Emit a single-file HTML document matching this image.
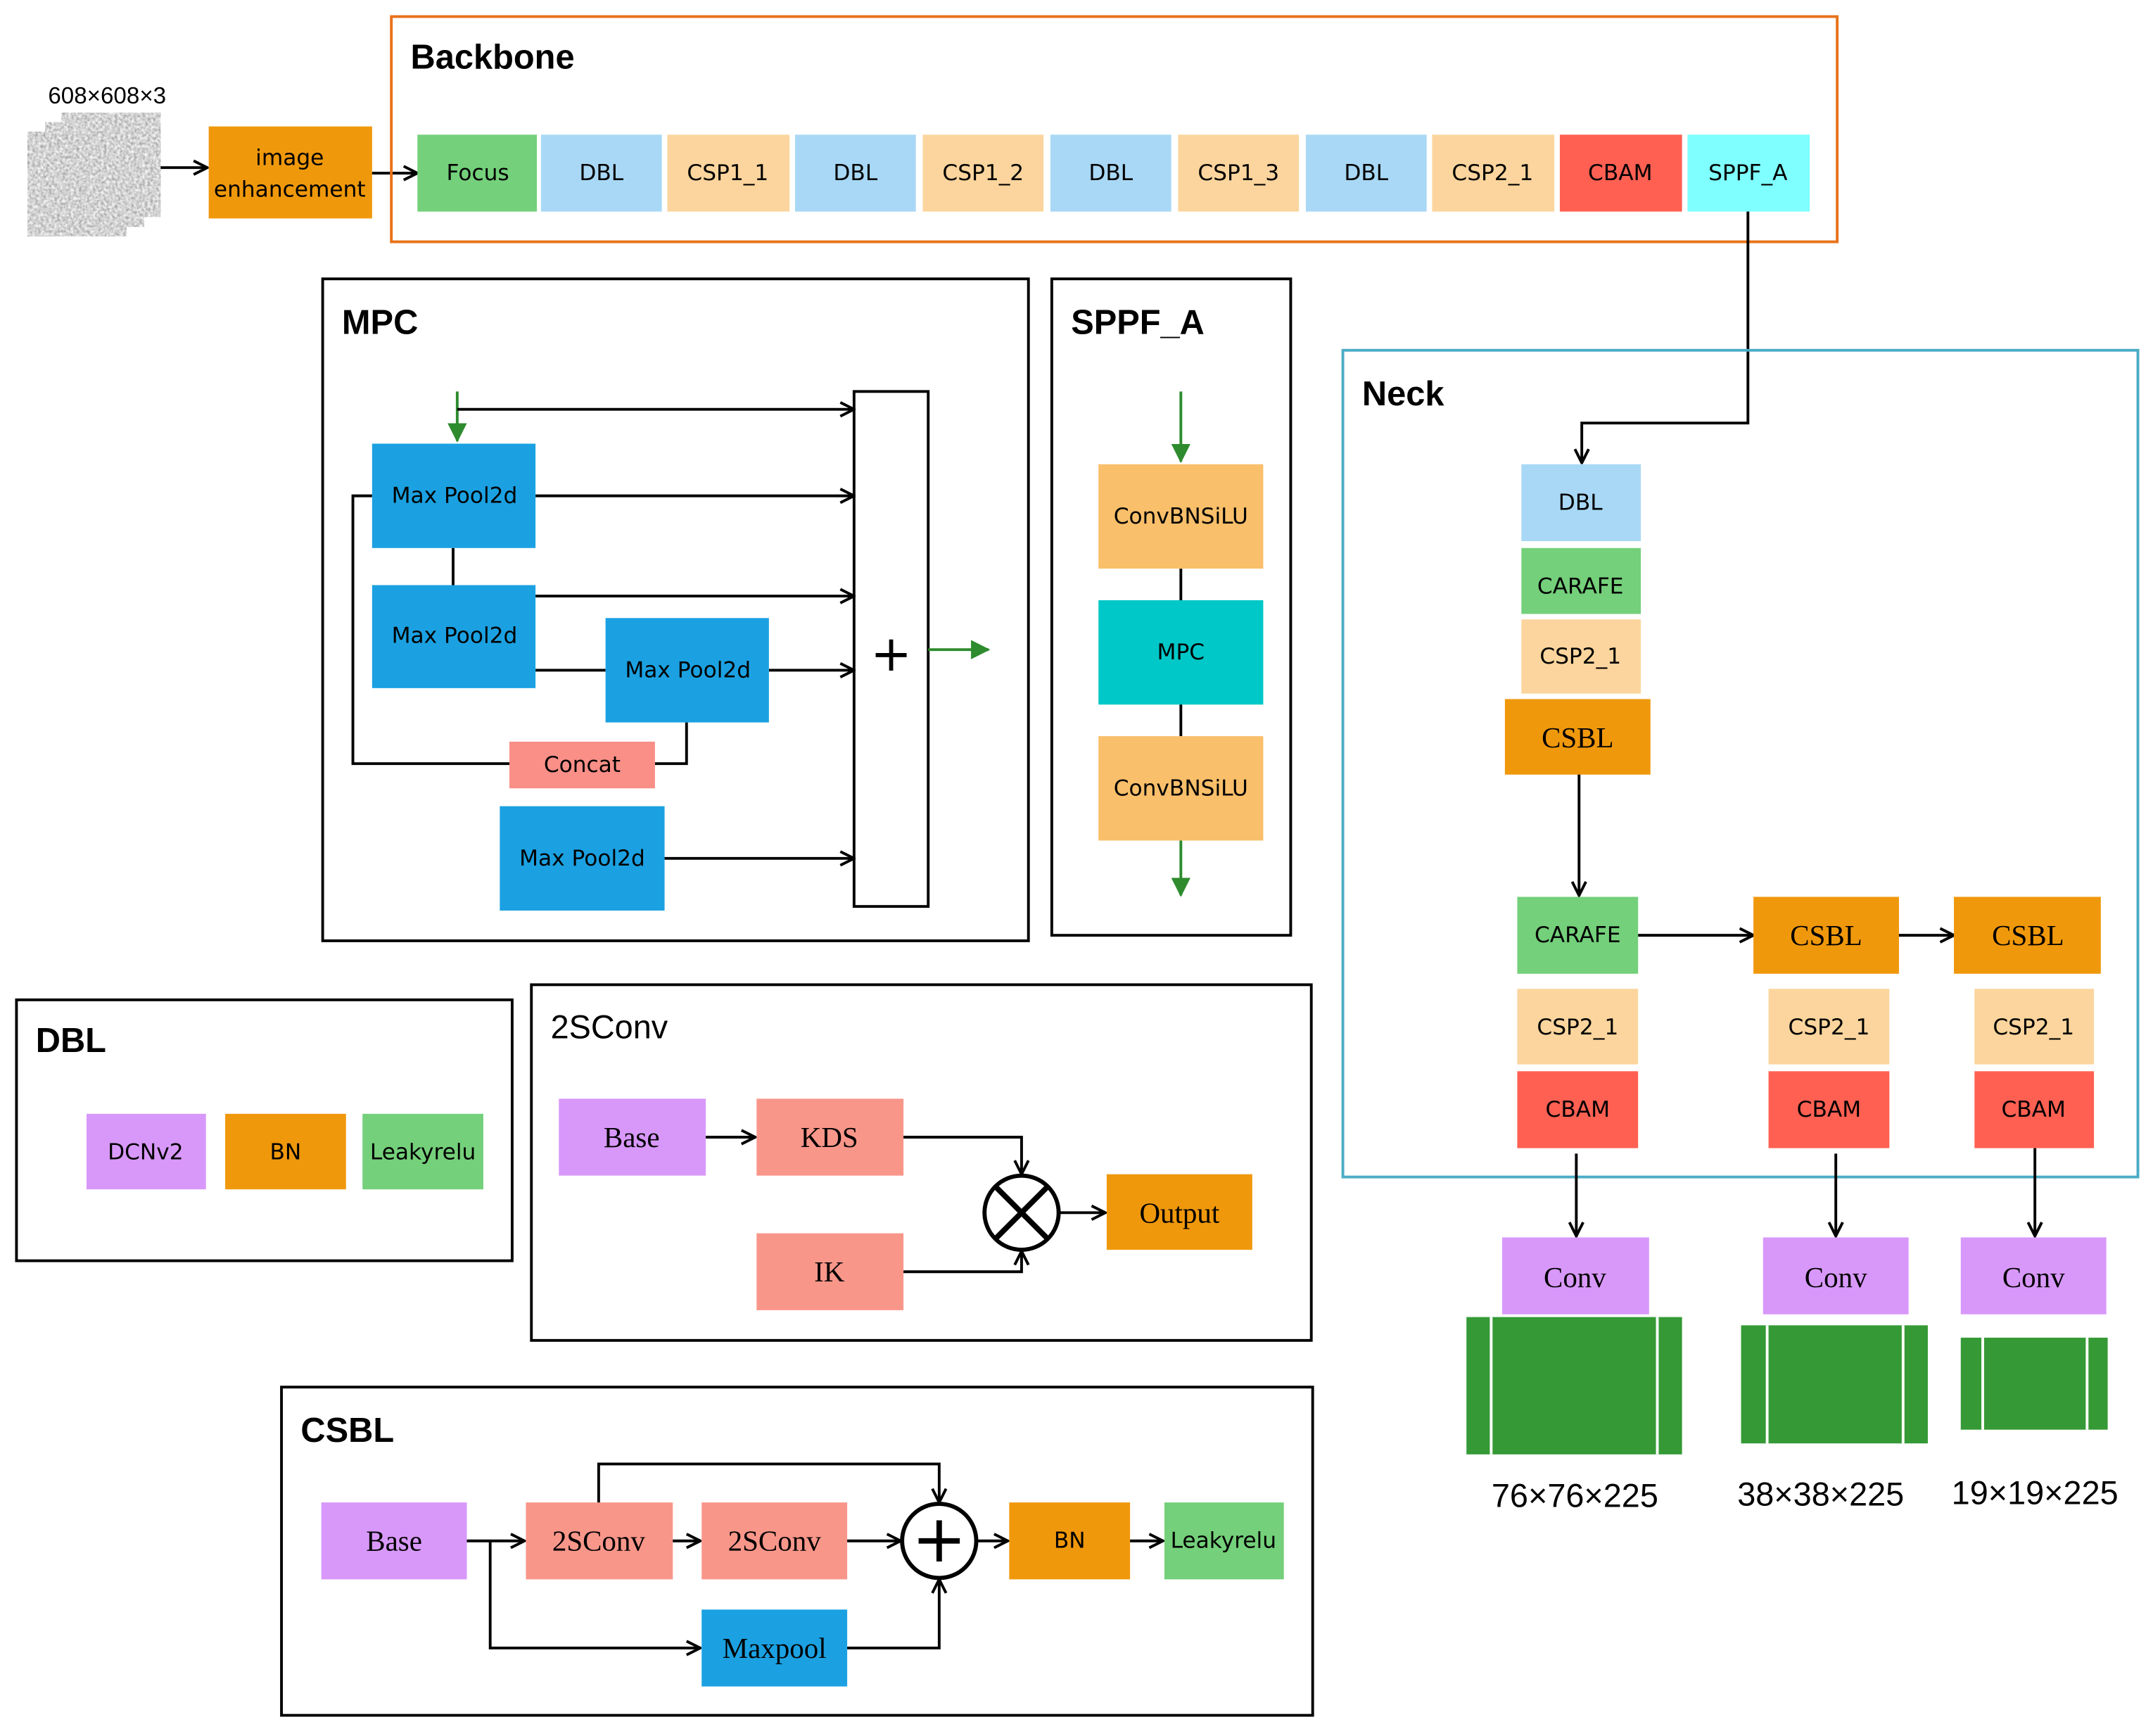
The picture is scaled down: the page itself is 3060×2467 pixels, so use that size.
<!DOCTYPE html>
<html><head><meta charset="utf-8"><style>
html,body{margin:0;padding:0;background:#fff;}
svg{display:block;}
text{font-family:"DejaVu Sans","Liberation Sans",sans-serif;fill:#000;}
.s{font-size:16px;text-anchor:middle;dominant-baseline:central;}
.f{font-family:"Liberation Serif",serif;font-size:21px;text-anchor:middle;dominant-baseline:central;}
.t{font-family:"Liberation Sans",sans-serif;font-size:25px;font-weight:bold;}
.d{font-family:"Liberation Sans",sans-serif;font-size:24px;text-anchor:middle;dominant-baseline:central;}
.ln{stroke:#000;stroke-width:2;fill:none;}
</style></head><body>
<svg width="3060" height="2467" viewBox="0 0 1568 1264" xmlns="http://www.w3.org/2000/svg">
<defs>
<marker id="a" viewBox="0 0 12 12" refX="11" refY="6" markerWidth="12" markerHeight="12" markerUnits="userSpaceOnUse" orient="auto"><path d="M1,1 L11,6 L1,11" fill="none" stroke="#000" stroke-width="2"/></marker>
<marker id="g" viewBox="0 0 12 12" refX="11" refY="6" markerWidth="14" markerHeight="14" markerUnits="userSpaceOnUse" orient="auto"><path d="M0,0 L12,6 L0,12 z" fill="#2E8B2E"/></marker>
<filter id="n" x="0" y="0" width="100%" height="100%"><feTurbulence type="fractalNoise" baseFrequency="0.5" numOctaves="2" seed="3"/><feColorMatrix type="matrix" values="0.9 0 0 0 0.2  0.9 0 0 0 0.2  0.9 0 0 0 0.2  0 0 0 0 1"/></filter>
</defs>
<rect width="1568" height="1264" fill="#fff"/>

<!-- input images -->
<rect x="45" y="82" width="72" height="76" filter="url(#n)"/>
<rect x="33" y="89" width="72" height="76" filter="url(#n)"/>
<rect x="20" y="96" width="72" height="76" filter="url(#n)"/>
<text x="78" y="70" style="font-family:'Liberation Sans',sans-serif;font-size:17px;text-anchor:middle;dominant-baseline:central;">608×608×3</text>
<line class="ln" x1="117" y1="122" x2="151" y2="122" marker-end="url(#a)"/>
<rect x="152" y="92" width="119" height="67" fill="#F0980C"/>
<text class="s" x="211" y="115">image</text>
<text class="s" x="211" y="138">enhancement</text>
<line class="ln" x1="271" y1="126" x2="304" y2="126" marker-end="url(#a)"/>

<!-- Backbone -->
<rect x="285" y="12" width="1053" height="164" fill="none" stroke="#E8731A" stroke-width="2"/>
<text class="t" x="299" y="50">Backbone</text>
<g>
<rect x="304" y="98" width="87" height="56" fill="#74D07A"/><text class="s" x="348" y="126">Focus</text>
<rect x="394" y="98" width="88" height="56" fill="#A8D8F5"/><text class="s" x="438" y="126">DBL</text>
<rect x="486" y="98" width="89" height="56" fill="#FBD59D"/><text class="s" x="530" y="126">CSP1_1</text>
<rect x="579" y="98" width="88" height="56" fill="#A8D8F5"/><text class="s" x="623" y="126">DBL</text>
<rect x="672" y="98" width="88" height="56" fill="#FBD59D"/><text class="s" x="716" y="126">CSP1_2</text>
<rect x="765" y="98" width="88" height="56" fill="#A8D8F5"/><text class="s" x="809" y="126">DBL</text>
<rect x="858" y="98" width="88" height="56" fill="#FBD59D"/><text class="s" x="902" y="126">CSP1_3</text>
<rect x="951" y="98" width="88" height="56" fill="#A8D8F5"/><text class="s" x="995" y="126">DBL</text>
<rect x="1043" y="98" width="89" height="56" fill="#FBD59D"/><text class="s" x="1087" y="126">CSP2_1</text>
<rect x="1136" y="98" width="89" height="56" fill="#FF6052"/><text class="s" x="1180" y="126">CBAM</text>
<rect x="1229" y="98" width="89" height="56" fill="#7FFFFF"/><text class="s" x="1273" y="126">SPPF_A</text>
</g>
<polyline class="ln" points="1273,154 1273,308 1152,308 1152,337" marker-end="url(#a)"/>

<!-- MPC -->
<rect x="235" y="203" width="514" height="482" fill="none" stroke="#000" stroke-width="2"/>
<text class="t" x="249" y="243">MPC</text>
<rect x="622" y="285" width="54" height="375" fill="#fff" stroke="#000" stroke-width="2"/>
<text x="649" y="476" style="font-size:36px;text-anchor:middle;dominant-baseline:central;">+</text>
<line x1="333" y1="285" x2="333" y2="321" stroke="#2E8B2E" stroke-width="2" marker-end="url(#g)"/>
<line class="ln" x1="333" y1="298" x2="622" y2="298" marker-end="url(#a)"/>
<polyline class="ln" points="271,361 257,361 257,556 371,556"/>
<polyline class="ln" points="500,526 500,556 477,556"/>
<line class="ln" x1="330" y1="399" x2="330" y2="426"/>
<line class="ln" x1="390" y1="361" x2="622" y2="361" marker-end="url(#a)"/>
<line class="ln" x1="390" y1="434" x2="622" y2="434" marker-end="url(#a)"/>
<line class="ln" x1="390" y1="488" x2="441" y2="488"/>
<line class="ln" x1="560" y1="488" x2="622" y2="488" marker-end="url(#a)"/>
<line class="ln" x1="484" y1="625" x2="622" y2="625" marker-end="url(#a)"/>
<rect x="271" y="323" width="119" height="76" fill="#1BA1E2"/><text class="s" x="331" y="361">Max Pool2d</text>
<rect x="271" y="426" width="119" height="75" fill="#1BA1E2"/><text class="s" x="331" y="463">Max Pool2d</text>
<rect x="441" y="450" width="119" height="76" fill="#1BA1E2"/><text class="s" x="501" y="488">Max Pool2d</text>
<rect x="371" y="540" width="106" height="34" fill="#F98F87"/><text class="s" x="424" y="557">Concat</text>
<rect x="364" y="587" width="120" height="76" fill="#1BA1E2"/><text class="s" x="424" y="625">Max Pool2d</text>
<line x1="676" y1="473" x2="720" y2="473" stroke="#2E8B2E" stroke-width="2" marker-end="url(#g)"/>

<!-- SPPF_A -->
<rect x="766" y="203" width="174" height="478" fill="none" stroke="#000" stroke-width="2"/>
<text class="t" x="780" y="243">SPPF_A</text>
<line x1="860" y1="285" x2="860" y2="336" stroke="#2E8B2E" stroke-width="2" marker-end="url(#g)"/>
<line class="ln" x1="860" y1="414" x2="860" y2="536"/>
<rect x="800" y="338" width="120" height="76" fill="#F9BF6A"/><text class="s" x="860" y="376">ConvBNSiLU</text>
<rect x="800" y="437" width="120" height="76" fill="#00C8C8"/><text class="s" x="860" y="475">MPC</text>
<rect x="800" y="536" width="120" height="76" fill="#F9BF6A"/><text class="s" x="860" y="574">ConvBNSiLU</text>
<line x1="860" y1="612" x2="860" y2="652" stroke="#2E8B2E" stroke-width="2" marker-end="url(#g)"/>

<!-- Neck -->
<rect x="978" y="255" width="579" height="602" fill="none" stroke="#4BACC6" stroke-width="2"/>
<text class="t" x="992" y="295">Neck</text>
<rect x="1108" y="338" width="87" height="56" fill="#A8D8F5"/><text class="s" x="1151" y="366">DBL</text>
<rect x="1108" y="399" width="87" height="48" fill="#74D07A"/><text class="s" x="1151" y="427">CARAFE</text>
<rect x="1108" y="451" width="87" height="54" fill="#FBD59D"/><text class="s" x="1151" y="478">CSP2_1</text>
<rect x="1096" y="509" width="106" height="55" fill="#F0980C"/><text class="f" x="1149" y="537">CSBL</text>
<line class="ln" x1="1150" y1="564" x2="1150" y2="652" marker-end="url(#a)"/>
<rect x="1105" y="653" width="88" height="56" fill="#74D07A"/><text class="s" x="1149" y="681">CARAFE</text>
<line class="ln" x1="1193" y1="681" x2="1277" y2="681" marker-end="url(#a)"/>
<rect x="1277" y="653" width="106" height="56" fill="#F0980C"/><text class="f" x="1330" y="681">CSBL</text>
<line class="ln" x1="1383" y1="681" x2="1423" y2="681" marker-end="url(#a)"/>
<rect x="1423" y="653" width="107" height="56" fill="#F0980C"/><text class="f" x="1477" y="681">CSBL</text>
<rect x="1105" y="720" width="88" height="55" fill="#FBD59D"/><text class="s" x="1149" y="748">CSP2_1</text>
<rect x="1288" y="720" width="88" height="55" fill="#FBD59D"/><text class="s" x="1332" y="748">CSP2_1</text>
<rect x="1438" y="720" width="87" height="55" fill="#FBD59D"/><text class="s" x="1481" y="748">CSP2_1</text>
<rect x="1105" y="780" width="88" height="56" fill="#FF6052"/><text class="s" x="1149" y="808">CBAM</text>
<rect x="1288" y="780" width="88" height="56" fill="#FF6052"/><text class="s" x="1332" y="808">CBAM</text>
<rect x="1438" y="780" width="87" height="56" fill="#FF6052"/><text class="s" x="1481" y="808">CBAM</text>
<line class="ln" x1="1148" y1="840" x2="1148" y2="900" marker-end="url(#a)"/>
<line class="ln" x1="1337" y1="840" x2="1337" y2="900" marker-end="url(#a)"/>
<line class="ln" x1="1482" y1="836" x2="1482" y2="900" marker-end="url(#a)"/>
<rect x="1094" y="901" width="107" height="56" fill="#D898FA"/><text class="f" x="1147" y="930">Conv</text>
<rect x="1284" y="901" width="106" height="56" fill="#D898FA"/><text class="f" x="1337" y="930">Conv</text>
<rect x="1428" y="901" width="106" height="56" fill="#D898FA"/><text class="f" x="1481" y="930">Conv</text>
<rect x="1068" y="959" width="157" height="100" fill="#359A35"/>
<line x1="1086" y1="959" x2="1086" y2="1059" stroke="#fff" stroke-width="2"/><line x1="1207" y1="959" x2="1207" y2="1059" stroke="#fff" stroke-width="2"/>
<rect x="1268" y="965" width="136" height="86" fill="#359A35"/>
<line x1="1287" y1="965" x2="1287" y2="1051" stroke="#fff" stroke-width="2"/><line x1="1386" y1="965" x2="1386" y2="1051" stroke="#fff" stroke-width="2"/>
<rect x="1428" y="974" width="107" height="67" fill="#359A35"/>
<line x1="1444" y1="974" x2="1444" y2="1041" stroke="#fff" stroke-width="2"/><line x1="1520" y1="974" x2="1520" y2="1041" stroke="#fff" stroke-width="2"/>
<text class="d" x="1147" y="1089">76×76×225</text>
<text class="d" x="1326" y="1088">38×38×225</text>
<text class="d" x="1482" y="1087">19×19×225</text>

<!-- DBL -->
<rect x="12" y="728" width="361" height="190" fill="none" stroke="#000" stroke-width="2"/>
<text class="t" x="26" y="766">DBL</text>
<rect x="63" y="811" width="87" height="55" fill="#D898FA"/><text class="s" x="106" y="839">DCNv2</text>
<rect x="164" y="811" width="88" height="55" fill="#F0980C"/><text class="s" x="208" y="839">BN</text>
<rect x="264" y="811" width="88" height="55" fill="#74D07A"/><text class="s" x="308" y="839">Leakyrelu</text>

<!-- 2SConv -->
<rect x="387" y="717" width="568" height="259" fill="none" stroke="#000" stroke-width="2"/>
<text x="401" y="756" style="font-family:'Liberation Sans',sans-serif;font-size:24px;">2SConv</text>
<rect x="407" y="800" width="107" height="56" fill="#D898FA"/><text class="f" x="460" y="828">Base</text>
<line class="ln" x1="514" y1="828" x2="550" y2="828" marker-end="url(#a)"/>
<rect x="551" y="800" width="107" height="56" fill="#F9968A"/><text class="f" x="604" y="828">KDS</text>
<rect x="551" y="898" width="107" height="56" fill="#F9968A"/><text class="f" x="604" y="926">IK</text>
<polyline class="ln" points="658,828 744,828 744,855" marker-end="url(#a)"/>
<polyline class="ln" points="658,926 744,926 744,911" marker-end="url(#a)"/>
<circle cx="744" cy="883" r="27" fill="#fff" stroke="#000" stroke-width="3"/>
<line x1="725" y1="864" x2="763" y2="902" stroke="#000" stroke-width="4"/>
<line x1="763" y1="864" x2="725" y2="902" stroke="#000" stroke-width="4"/>
<line class="ln" x1="771" y1="883" x2="805" y2="883" marker-end="url(#a)"/>
<rect x="806" y="855" width="106" height="55" fill="#F0980C"/><text class="f" x="859" y="883">Output</text>

<!-- CSBL -->
<rect x="205" y="1010" width="751" height="239" fill="none" stroke="#000" stroke-width="2"/>
<text class="t" x="219" y="1050">CSBL</text>
<rect x="234" y="1094" width="106" height="56" fill="#D898FA"/><text class="f" x="287" y="1122">Base</text>
<line class="ln" x1="340" y1="1122" x2="382" y2="1122" marker-end="url(#a)"/>
<polyline class="ln" points="357,1122 357,1200 510,1200" marker-end="url(#a)"/>
<rect x="383" y="1094" width="107" height="56" fill="#F9968A"/><text class="f" x="436" y="1122">2SConv</text>
<line class="ln" x1="490" y1="1122" x2="510" y2="1122" marker-end="url(#a)"/>
<rect x="511" y="1094" width="106" height="56" fill="#F9968A"/><text class="f" x="564" y="1122">2SConv</text>
<polyline class="ln" points="436,1094 436,1066 684,1066 684,1094" marker-end="url(#a)"/>
<line class="ln" x1="617" y1="1122" x2="656" y2="1122" marker-end="url(#a)"/>
<rect x="511" y="1172" width="106" height="56" fill="#1BA1E2"/><text class="f" x="564" y="1200">Maxpool</text>
<polyline class="ln" points="617,1200 684,1200 684,1150" marker-end="url(#a)"/>
<circle cx="684" cy="1122" r="27" fill="#fff" stroke="#000" stroke-width="3"/>
<line x1="669" y1="1122" x2="699" y2="1122" stroke="#000" stroke-width="4"/>
<line x1="684" y1="1107" x2="684" y2="1137" stroke="#000" stroke-width="4"/>
<line class="ln" x1="711" y1="1122" x2="734" y2="1122" marker-end="url(#a)"/>
<rect x="735" y="1094" width="88" height="56" fill="#F0980C"/><text class="s" x="779" y="1122">BN</text>
<line class="ln" x1="823" y1="1122" x2="847" y2="1122" marker-end="url(#a)"/>
<rect x="848" y="1094" width="87" height="56" fill="#74D07A"/><text class="s" x="891" y="1122">Leakyrelu</text>
</svg>
</body></html>
